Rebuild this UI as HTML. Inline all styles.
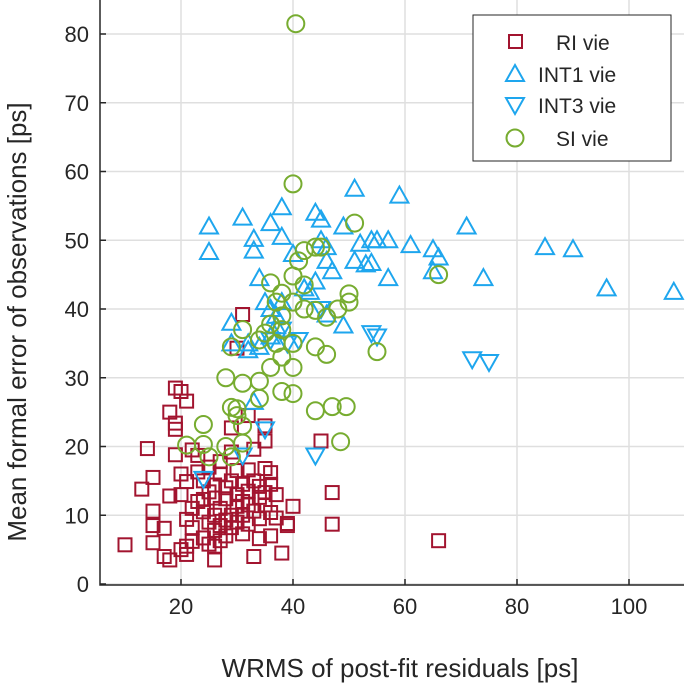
<!DOCTYPE html>
<html><head><meta charset="utf-8"><style>
html,body{margin:0;padding:0;background:#fff}
svg text{font-family:"Liberation Sans",Arial,sans-serif;fill:#262626}
</style></head><body>
<svg id="chart" width="685" height="691" xmlns="http://www.w3.org/2000/svg">
<g id="grid"></g>
<g id="marks"></g>
<g id="axes"></g>
<text transform="translate(26,322) rotate(-90)" text-anchor="middle" font-size="26">Mean formal error of observations [ps]</text>
<text x="400" y="677" text-anchor="middle" font-size="26">WRMS of post-fit residuals [ps]</text>
<g>
<rect x="473" y="15" width="198" height="146" fill="#fff" stroke="#262626" stroke-width="1"/>
<rect x="509" y="35" width="13" height="13" fill="none" stroke="#a2142f" stroke-width="2"/>
<text x="556" y="50" font-size="21">RI vie</text>
<polygon points="515,65 524,81 506,81" fill="none" stroke="#1ea6ee" stroke-width="2"/>
<text x="538" y="82" font-size="21">INT1 vie</text>
<polygon points="506,98 524,98 515,114" fill="none" stroke="#1ea6ee" stroke-width="2"/>
<text x="538" y="113" font-size="21">INT3 vie</text>
<circle cx="515" cy="138" r="8.5" fill="none" stroke="#77ac30" stroke-width="2"/>
<text x="556" y="146" font-size="21">SI vie</text>
</g>
</svg>
<script>
const xTicks=[20,40,60,80,100];
const yTicks=[0,10,20,30,40,50,60,70,80];
const riX=[10,13,14,15,15,15,15,17,18,18,18,19,19,19,19,20,20,20,20,21,21,21,21,22,22,22,23,23,23,24,24,24,24,25,25,25,26,26,26,26,26,27,27,27,27,27,28,28,28,28,29,29,29,29,29,30,30,30,30,31,31,31,31,32,32,32,32,33,33,33,34,34,34,34,35,35,35,35,35,36,36,36,36,37,37,38,39,39,40,45,47,47,66,31,30,32,22,17,21,25,33,26];
const riY=[5.7,13.8,19.7,10.6,8.5,6,15.5,8.1,3.5,12.8,25,28.5,22.5,23.4,18.8,5,28,13,16,4.3,9.4,26.6,14.9,11,6.2,8.2,12,16.3,18.7,10.5,12.3,15,6.7,9,17,13.4,5.5,7.8,10,12.5,14.4,8.5,6.3,11,16,17.8,9.3,12.4,14,7,10,8.2,15,19.2,22.7,11.3,13,16.5,9,7.3,10,12,14.5,8.7,11.5,13.5,16.6,10.6,15,19.6,6.6,9.5,12.6,14.2,16.8,11.5,13.3,20.8,23,10.4,14.5,16.2,7,9.6,13,4.5,8.8,8.5,11.3,20.8,13.3,8.7,6.3,39.2,34.3,24.5,19.5,4,5.5,5.8,4,3.5];
const int1X=[25,25,31,33,33,36,38,38,40,44,45,45,46,46,47,49,51,51,52,53,54,54,55,57,57,59,61,65,66,65,71,74,85,90,96,108,34,35,36,37,37,38,42,43,44,46,49,29,29,32,34,36,33,32];
const int1Y=[52,48.3,53.3,50.2,48.5,52.5,54.8,50.5,48,54,53,50,49,47,45.5,52,57.5,47,49.5,46.5,46.7,50,50,50,44.5,56.5,49.3,48.7,47.5,45.5,52,44.5,49,48.7,43,42.5,44.5,41,40,37.5,39,41,43,42.5,44,39.2,37.6,38,35,35,34.5,36,26.5,34];
const int3X=[36,38,41,54,55,72,75,35,31,24,44,45,39];
const int3Y=[35.5,37,35.5,36.5,36,32.7,32.3,22.5,18.7,15.3,18.7,40,35];
const siX=[40.5,40,51,44,42,45,41,40,42,66,36,38,37,40,38,42,44,46,50,50,48,36,38,35,31,29,34,37,40,44,46,55,28,31,34,36,38,40,34,38,40,29,30,30,31,28,24,21,25,29,31,44,47,49.5,48.5,24];
const siY=[81.5,58.2,52.5,49,48.5,49,47,44.8,43.5,45,43.8,42.3,41,41,39,40,39.8,38.8,41,42.2,40,37.8,37,36.5,37,34.5,35.5,35,35,34.5,33.4,33.8,30,29.2,29.5,31.5,33,31.5,27,28,27.7,25.7,25.5,24.5,23,20,23.2,20.2,18.5,18.5,20.5,25.2,25.8,25.8,20.7,20.3];

const L=100,R=684,T=0,B=585;
const X=v=>69+v*5.6;
const Y=v=>584-v*6.875;
const NS='http://www.w3.org/2000/svg';
function mk(tag,parent,attrs){const e=document.createElementNS(NS,tag);for(const k in attrs)e.setAttribute(k,attrs[k]);parent.appendChild(e);return e;}
const grid=document.getElementById('grid'),marks=document.getElementById('marks'),axes=document.getElementById('axes');
xTicks.forEach(t=>{
  const g=mk('line',grid,{x1:X(t),x2:X(t),y1:T,y2:B,stroke:'#dfdfdf','stroke-width':1.5});
  
  
  const tk=mk('line',axes,{x1:X(t),x2:X(t),y1:B,y2:B-6,stroke:'#262626','stroke-width':1.5});
  
  
  const tx=mk('text',axes,{x:X(t),y:614,'text-anchor':'middle','font-size':22});
  tx.textContent=t;
  
  
});
yTicks.forEach(t=>{
  const g=mk('line',grid,{x1:L,x2:R,y1:Y(t),y2:Y(t),stroke:'#dfdfdf','stroke-width':1.5});
  
  
  const tk=mk('line',axes,{x1:L,x2:L+6,y1:Y(t),y2:Y(t),stroke:'#262626','stroke-width':1.5});
  
  
  const tx=mk('text',axes,{x:89,y:Y(t)+8,'text-anchor':'end','font-size':22});
  tx.textContent=t;
  
  
});
const ax=mk('path',axes,{d:`M${L},${T}V${B}H${R}`,fill:'none',stroke:'#262626','stroke-width':1.5});



riX.forEach((v,i)=>{
  const e=mk('rect',marks,{x:X(v)-6.5,y:Y(riY[i])-6.5,width:13,height:13,fill:'none',stroke:'#a2142f','stroke-width':2});
  
  
});
int1X.forEach((v,i)=>{
  const x=X(v),y=Y(int1Y[i]);
  const e=mk('polygon',marks,{points:`${x},${y-9} ${x+9},${y+7} ${x-9},${y+7}`,fill:'none',stroke:'#1ea6ee','stroke-width':2});
  
  
});
int3X.forEach((v,i)=>{
  const x=X(v),y=Y(int3Y[i]);
  const e=mk('polygon',marks,{points:`${x-9},${y-7} ${x+9},${y-7} ${x},${y+9}`,fill:'none',stroke:'#1ea6ee','stroke-width':2});
  
  
});
siX.forEach((v,i)=>{
  const e=mk('circle',marks,{cx:X(v),cy:Y(siY[i]),r:8.5,fill:'none',stroke:'#77ac30','stroke-width':2});
  
  
});
</script>
</body></html>
